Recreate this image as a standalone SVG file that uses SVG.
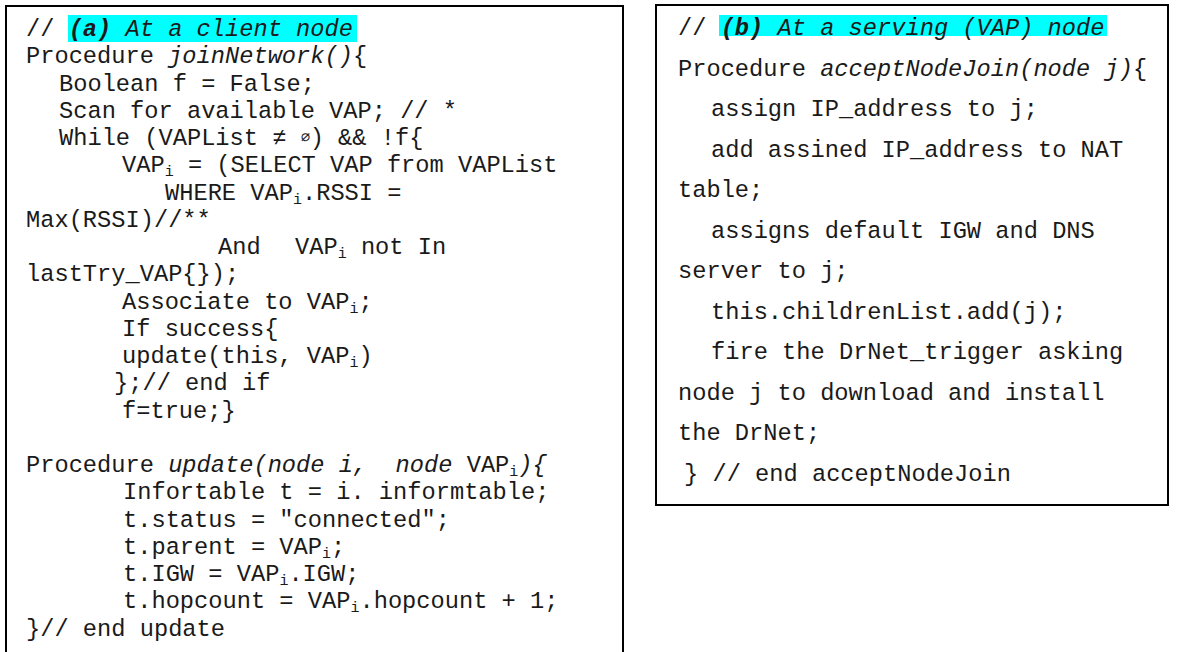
<svg xmlns="http://www.w3.org/2000/svg" width="1181" height="652" viewBox="0 0 1181 652">
<style>
.box{fill:#fff;stroke:#000;stroke-width:2}
.hl{fill:#00ffff}
text{font-family:"Liberation Mono","Courier New",monospace;font-size:23.7px;fill:#1a1a1a;white-space:pre}
.it{font-style:italic}
.bi{font-style:italic;font-weight:bold}
.sub{font-size:15px}
</style>
<rect width="1181" height="652" fill="#fff"/>
<g id="box-a">
<rect class="box" x="6" y="6" width="617" height="660"/>
<rect class="hl" x="68" y="15" width="289" height="27"/>
<text x="26" y="36" xml:space="preserve">// <tspan class="bi">(a)</tspan><tspan class="it"> At a client node</tspan></text>
<text x="26" y="63.2" xml:space="preserve">Procedure <tspan class="it">joinNetwork()</tspan>{</text>
<text x="59" y="90.5">Boolean f = False;</text>
<text x="59" y="117.7">Scan for available VAP; // *</text>
<text x="59" y="145" xml:space="preserve">While (VAPList ≠ <tspan class="sub" dy="-3">∅</tspan><tspan dy="3">) &amp;&amp; !f{</tspan></text>
<text x="122" y="172.2" xml:space="preserve">VAP<tspan class="sub" dy="4">i</tspan><tspan dy="-4"> = (SELECT VAP from VAPList</tspan></text>
<text x="165" y="199.5" xml:space="preserve">WHERE VAP<tspan class="sub" dy="4">i</tspan><tspan dy="-4">.RSSI =</tspan></text>
<text x="26" y="226.7">Max(RSSI)//**</text>
<text x="218" y="254">And</text>
<text x="295" y="254" xml:space="preserve">VAP<tspan class="sub" dy="4">i</tspan><tspan dy="-4"> not In</tspan></text>
<text x="26" y="281.2">lastTry_VAP{});</text>
<text x="122" y="308.5" xml:space="preserve">Associate to VAP<tspan class="sub" dy="4">i</tspan><tspan dy="-4">;</tspan></text>
<text x="122" y="335.7">If success{</text>
<text x="122" y="363" xml:space="preserve">update(this, VAP<tspan class="sub" dy="4">i</tspan><tspan dy="-4">)</tspan></text>
<text x="114" y="390.2">};// end if</text>
<text x="122" y="417.5">f=true;}</text>
<text x="26" y="472" xml:space="preserve">Procedure <tspan class="it">update(node i,  node </tspan>VAP<tspan class="sub" dy="4">i</tspan><tspan class="it" dy="-4">){</tspan></text>
<text x="123" y="499.2">Infortable t = i. informtable;</text>
<text x="123" y="526.5">t.status = "connected";</text>
<text x="123" y="553.7" xml:space="preserve">t.parent = VAP<tspan class="sub" dy="4">i</tspan><tspan dy="-4">;</tspan></text>
<text x="123" y="581" xml:space="preserve">t.IGW = VAP<tspan class="sub" dy="4">i</tspan><tspan dy="-4">.IGW;</tspan></text>
<text x="123" y="608.2" xml:space="preserve">t.hopcount = VAP<tspan class="sub" dy="4">i</tspan><tspan dy="-4">.hopcount + 1;</tspan></text>
<text x="26" y="635.5">}// end update</text>
</g>
<g id="box-b">
<rect class="box" x="656" y="5" width="512" height="500"/>
<rect class="hl" x="719" y="15" width="388" height="21"/>
<text x="678" y="35" xml:space="preserve">// <tspan class="bi">(b)</tspan><tspan class="it"> At a serving (VAP) node</tspan></text>
<text x="678" y="75.5" xml:space="preserve">Procedure <tspan class="it">acceptNodeJoin(node j)</tspan>{</text>
<text x="711" y="116">assign IP_address to j;</text>
<text x="711" y="156.5">add assined IP_address to NAT</text>
<text x="678" y="197">table;</text>
<text x="711" y="237.5">assigns default IGW and DNS</text>
<text x="678" y="278">server to j;</text>
<text x="711" y="318.5">this.childrenList.add(j);</text>
<text x="711" y="359">fire the DrNet_trigger asking</text>
<text x="678" y="399.5">node j to download and install</text>
<text x="678" y="440">the DrNet;</text>
<text x="684" y="480.5">} // end acceptNodeJoin</text>
</g>
<g id="connectors"/>
</svg>
